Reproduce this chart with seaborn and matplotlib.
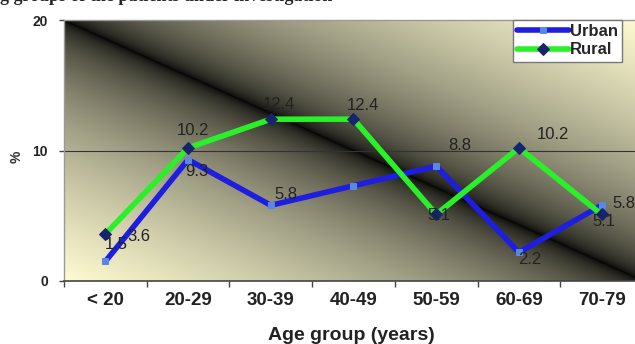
import numpy as np
import pandas as pd
import seaborn as sns
import matplotlib.pyplot as plt
from matplotlib.colors import to_rgb

# chart values
age_groups = ['< 20', '20-29', '30-39', '40-49', '50-59', '60-69', '70-79']
urban = [1.5, 9.3, 5.8, 7.3, 8.8, 2.2, 5.8]
rural = [3.6, 10.2, 12.4, 12.4, 5.1, 10.2, 5.1]
y_ticks = [0, 10, 20]

# label offsets in pixels (right, down) from each point, None = label hidden
urban_offsets = [(11, -17), (9, 12), (15, -11), None, (24, -21), (11, 7), (22, -2)]
rural_offsets = [(33, 2), (5, -17), (8, -15), (9, -14), (3, 1), (34, -13), (2, 7)]

df = pd.DataFrame({
    'pos': list(range(len(age_groups))) * 2,
    'value': urban + rural,
    'area': ['Urban'] * len(urban) + ['Rural'] * len(rural),
})

sns.set_theme(style='white')
plt.rcParams['font.family'] = ['Liberation Sans', 'DejaVu Sans']

fig = plt.figure(figsize=(6.35, 3.44), dpi=100)
ax = fig.add_axes([64 / 635, 63 / 344, 579 / 635, 261 / 344])

# diagonal "from center" gradient: black along the diagonal, light yellow at corners
h, w = 261, 579
v, u = np.mgrid[0:1:h * 1j, 0:1:w * 1j]
t = np.sqrt(np.abs(u - v))
light = np.array(to_rgb('#fffcd2'))
grad = t[..., None] * light[None, None, :]
ax.imshow(grad, extent=[-0.5, len(age_groups) - 0.5, 0, 20], aspect='auto',
          origin='upper', zorder=0, interpolation='bilinear')

ax.axhline(10, color='#333333', lw=0.8, zorder=1)

urb = df[df['area'] == 'Urban']
rur = df[df['area'] == 'Rural']
sns.lineplot(data=urb, x='pos', y='value', ax=ax, color='#1e1ee0', lw=4,
             marker='s', markersize=4, markerfacecolor='#5a88e0',
             markeredgecolor='#5a88e0', sort=False, label='Urban', zorder=3)
sns.lineplot(data=rur, x='pos', y='value', ax=ax, color='#2af02a', lw=4,
             marker='D', markersize=6, markerfacecolor='#16246e',
             markeredgecolor='#16246e', sort=False, label='Rural', zorder=4)

for series, offsets in ((urban, urban_offsets), (rural, rural_offsets)):
    for i, (val, off) in enumerate(zip(series, offsets)):
        if off is None:
            continue
        ax.annotate(f'{val:.1f}', (i, val), xytext=(off[0] * 0.72, -off[1] * 0.72),
                    textcoords='offset points', ha='center', va='center',
                    fontsize=12, color='#222222', zorder=5)

ax.set_xlim(-0.5, len(age_groups) - 0.5)
ax.set_ylim(0, 20)
ax.set_xticks(range(len(age_groups)))
ax.set_xticklabels(age_groups, fontsize=13.5, fontweight='bold', color='#222222')
ax.set_xticks(np.arange(-0.5, len(age_groups), 1), minor=True)
ax.set_yticks(y_ticks)
ax.set_yticklabels([str(y) for y in y_ticks], fontsize=10, fontweight='bold', color='#222222')
ax.tick_params(axis='x', which='major', length=0, pad=8)
ax.tick_params(axis='x', which='minor', length=4, width=1, color='#444444', direction='out', bottom=True)
ax.tick_params(axis='y', length=3.5, width=1, color='#444444', direction='out', left=True, pad=8)
ax.set_xlabel('')
ax.set_ylabel('')

for side in ('top', 'left'):
    ax.spines[side].set_color('#999999')
    ax.spines[side].set_linewidth(1)
ax.spines['bottom'].set_color('#444444')
ax.spines['bottom'].set_linewidth(1.2)
ax.spines['right'].set_visible(False)

ax.legend(loc='upper left', bbox_to_anchor=(513 / 635, 1 - 20 / 344),
          bbox_transform=fig.transFigure, frameon=True, fancybox=False,
          edgecolor='#777777', facecolor='white', framealpha=1,
          borderpad=0.25, handlelength=3.1, handletextpad=0.05,
          labelspacing=0.2, borderaxespad=0,
          prop={'weight': 'bold', 'size': 12})

fig.text(17 / 635, 1 - 157 / 344, '%', rotation=90, fontsize=10, fontweight='bold',
         ha='center', va='center', color='#333333')
fig.text(351 / 635, 1 - 340 / 344, 'Age group (years)', fontsize=14, fontweight='bold',
         ha='center', va='baseline', color='#222222')
fig.text(0, 1 - 1 / 344, 'g groups of the patients under investigation',
         family=['Liberation Serif', 'DejaVu Serif'], fontweight='bold', fontsize=13,
         ha='left', va='baseline')

fig.savefig('out.png', dpi=100)
